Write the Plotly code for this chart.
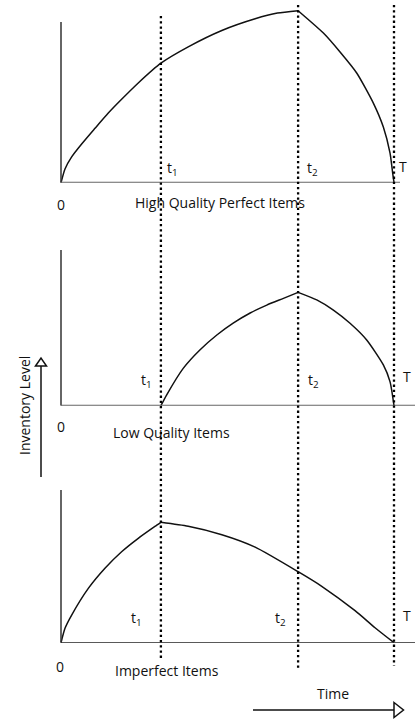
import plotly.graph_objects as go

# ---------------- data (time units: T = 10, inventory units) ----------------
t1, t2, T = 3.0, 7.12, 10.0

# Panel 1: High quality perfect items
hq_rise_t = [0.0, 0.12, 0.32, 0.62, 1.02, 1.42, 1.82, 2.32, 3.0, 3.82, 4.83, 5.83, 6.5, 7.12]
hq_rise_v = [0.0, 8.0, 15.0, 22.5, 31.6, 40.5, 48.5, 58.0, 69.5, 79.0, 88.5, 95.3, 98.6, 100.0]
hq_fall_t = [7.12, 7.88, 8.38, 8.88, 9.38, 9.68, 9.88, 9.96, 10.0]
hq_fall_v = [100.0, 87.0, 76.0, 63.8, 46.3, 32.4, 17.3, 5.6, 0.0]

# Panel 2: Low quality items
lq_rise_t = [3.0, 3.17, 3.67, 4.17, 4.68, 5.17, 5.68, 6.18, 6.68, 7.12]
lq_rise_v = [0.0, 6.2, 21.7, 32.4, 41.1, 48.0, 53.9, 58.5, 62.4, 65.9]
lq_fall_t = [7.12, 7.68, 8.18, 8.68, 9.18, 9.68, 9.88, 10.0]
lq_fall_v = [65.9, 61.5, 55.6, 47.9, 38.2, 23.7, 14.0, 0.0]

# Panel 3: Imperfect items
im_rise_t = [0.0, 0.12, 0.32, 0.82, 1.32, 1.82, 2.32, 2.82, 3.0]
im_rise_v = [0.0, 8.4, 16.1, 31.6, 43.3, 52.9, 60.7, 67.6, 70.0]
im_fall_t = [3.0, 3.82, 4.83, 5.83, 7.12, 7.83, 8.83, 9.43, 10.0]
im_fall_v = [70.0, 67.7, 62.8, 55.6, 41.3, 32.8, 18.6, 8.7, 0.0]

panel_titles = ["High Quality Perfect Items", "Low Quality Items", "Imperfect Items"]
time_labels = ["t<sub>1</sub>", "t<sub>2</sub>", "T"]

# ---------------- layout constants (pixels) ----------------
W, H = 415, 720
X0_PX, T_PX = 61.0, 394.0          # pixel of t=0 and t=T
PX_PER_T = (T_PX - X0_PX) / T
PX_PER_V = 1.72                    # pixels per inventory unit
baselines_px = [182.7, 405.7, 642.7]
tops_px = [0.0, 240.0, 480.0]
axis_top_px = [22.0, 250.0, 490.0]
axis_right_px = [400.0, 415.0, 415.0]

def py(px):
    return 1 - px / H

def pxx(px):
    return px / W

fig = go.Figure()

series = [
    (hq_rise_t, hq_rise_v, hq_fall_t, hq_fall_v),
    (lq_rise_t, lq_rise_v, lq_fall_t, lq_fall_v),
    (im_rise_t, im_rise_v, im_fall_t, im_fall_v),
]
for i, (rt, rv, ft, fv) in enumerate(series):
    ya = "y" if i == 0 else f"y{i+1}"
    for xs, ys in ((rt, rv), (ft, fv)):
        fig.add_trace(go.Scatter(x=xs, y=ys, xaxis="x", yaxis=ya, mode="lines",
                                 line=dict(color="#111", width=1.5, shape="spline", smoothing=0.6),
                                 hoverinfo="skip", showlegend=False))

layout = dict(
    width=W, height=H, margin=dict(l=0, r=0, t=0, b=0),
    paper_bgcolor="white", plot_bgcolor="rgba(0,0,0,0)",
    xaxis=dict(range=[-X0_PX / PX_PER_T, (W - X0_PX) / PX_PER_T], domain=[0, 1],
               visible=False, fixedrange=True),
)
for i in range(3):
    key = "yaxis" if i == 0 else f"yaxis{i+1}"
    layout[key] = dict(domain=[py(baselines_px[i]), py(tops_px[i])],
                       range=[0, (baselines_px[i] - tops_px[i]) / PX_PER_V],
                       anchor="x", visible=False, fixedrange=True)
fig.update_layout(**layout)

shapes = []
# axes
for i in range(3):
    yr = "y" if i == 0 else f"y{i+1}"
    top_v = (baselines_px[i] - axis_top_px[i]) / PX_PER_V
    right_t = (axis_right_px[i] - X0_PX) / PX_PER_T
    shapes.append(dict(type="line", xref="x", yref=yr, x0=0, x1=0, y0=0, y1=top_v,
                       line=dict(color="#333", width=1.5)))
    shapes.append(dict(type="line", xref="x", yref=yr, x0=0, x1=right_t, y0=0, y1=0,
                       line=dict(color="#666" if i < 2 else "#222", width=2 if i < 2 else 1.5)))
# dotted verticals
for tv, top, bot in ((t1, 16, 660), (t2, 5, 668), (T, 5, 666)):
    shapes.append(dict(type="line", xref="x", yref="paper", x0=tv, x1=tv, y0=py(top), y1=py(bot),
                       line=dict(color="#000", width=2.3, dash="2.3px,2.9px")))
# Time arrow
shapes.append(dict(type="line", xref="paper", yref="paper", x0=pxx(253), x1=pxx(401), y0=py(710), y1=py(710),
                   line=dict(color="#111", width=1.5)))
shapes.append(dict(type="path", xref="paper", yref="paper",
                   path=f"M {pxx(394)} {py(702.5)} L {pxx(403.5)} {py(710)} L {pxx(394)} {py(717.5)} Z",
                   line=dict(color="#111", width=1.5), fillcolor="white"))
# Inventory arrow
AX = 41
shapes.append(dict(type="line", xref="paper", yref="paper", x0=pxx(AX), x1=pxx(AX), y0=py(477), y1=py(360),
                   line=dict(color="#111", width=1.5)))
shapes.append(dict(type="path", xref="paper", yref="paper",
                   path=f"M {pxx(AX-5.5)} {py(366)} L {pxx(AX)} {py(358)} L {pxx(AX+5.5)} {py(366)} Z",
                   line=dict(color="#111", width=1.5), fillcolor="white"))
fig.update_layout(shapes=shapes)

FONT = "Open Sans"
FS = 14
ann = []
def txt(s, x, y, size=FS, angle=0):
    ann.append(dict(text=s, x=pxx(x), y=py(y), xref="paper", yref="paper", showarrow=False,
                    xanchor="center", yanchor="middle", textangle=angle,
                    font=dict(family=FONT, size=size, color="#111")))

zero_pos = [(61, 204), (61, 426), (60, 666)]
title_pos = [(219.5, 202), (171, 432.5), (166.7, 670)]
lab_pos = [
    [(172, 168), (312, 168), (403, 166)],
    [(146, 380), (313, 380), (407, 376)],
    [(136, 618), (280, 618), (407, 615)],
]
for i in range(3):
    txt("0", *zero_pos[i])
    txt(panel_titles[i], *title_pos[i])
    for lbl, (x, y) in zip(time_labels, lab_pos[i]):
        txt(lbl, x, y)
txt("Time", 333, 693)
txt("Inventory Level", 24, 406, angle=-90)
fig.update_layout(annotations=ann)

fig.write_html("out.html", config={"displayModeBar": False},
               post_script="document.body.style.margin='0px';")
